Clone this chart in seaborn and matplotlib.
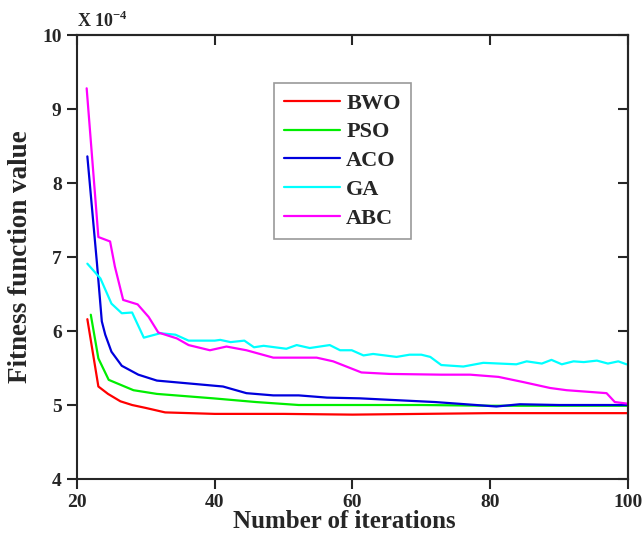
import numpy as np
import pandas as pd
import matplotlib
matplotlib.use("Agg")
import matplotlib.pyplot as plt
import seaborn as sns

# values in units of 1e-4
bwo_x = [21.5, 23.1, 24.5, 26.3, 28.0, 30.0, 32.8, 40.0, 50.0, 60.0, 70.0, 80.0, 90.0, 100.0]
bwo_y = [6.16, 5.25, 5.15, 5.05, 5.00, 4.96, 4.90, 4.88, 4.88, 4.87, 4.88, 4.89, 4.89, 4.89]

pso_x = [22.0, 23.1, 24.6, 28.2, 31.6, 39.8, 46.0, 52.2, 60.0, 70.0, 80.0, 90.0, 100.0]
pso_y = [6.22, 5.63, 5.34, 5.20, 5.15, 5.09, 5.04, 5.00, 5.00, 5.00, 4.99, 4.99, 4.99]

aco_x = [21.5, 22.9, 23.6, 24.1, 25.0, 26.5, 28.9, 31.6, 41.2, 44.6, 48.5, 52.2, 56.3, 61.1, 65.4,
         72.0, 80.9, 84.3, 90.0, 100.0]
aco_y = [8.36, 6.91, 6.13, 5.95, 5.72, 5.53, 5.41, 5.33, 5.25, 5.16, 5.13, 5.13, 5.10, 5.09, 5.07,
         5.04, 4.98, 5.01, 5.00, 5.00]

ga_x = [21.5, 23.4, 25.0, 26.5, 28.0, 29.7, 32.1, 34.3, 36.2, 40.0, 40.8, 42.3, 44.3, 45.7, 47.1,
        50.4, 51.9, 53.8, 56.7, 58.2, 59.9, 61.6, 63.0, 66.4, 68.3, 70.0, 71.3, 72.9, 76.1, 79.0,
        83.8, 85.3, 87.5, 88.9, 90.4, 92.1, 93.6, 95.5, 97.1, 98.6, 99.8]
ga_y = [6.91, 6.71, 6.37, 6.24, 6.25, 5.91, 5.97, 5.95, 5.87, 5.87, 5.88, 5.85, 5.87, 5.78, 5.80,
        5.76, 5.81, 5.77, 5.81, 5.74, 5.74, 5.67, 5.69, 5.65, 5.68, 5.68, 5.65, 5.54, 5.52, 5.57,
        5.55, 5.59, 5.56, 5.61, 5.55, 5.59, 5.58, 5.60, 5.56, 5.59, 5.55]

abc_x = [21.4, 23.1, 24.8, 25.5, 26.7, 28.8, 30.4, 31.8, 34.5, 36.2, 39.3, 41.7, 44.6, 48.5, 54.8,
         57.2, 61.3, 65.4, 72.9, 77.1, 81.2, 84.8, 88.7, 91.1, 96.9, 98.1, 99.8]
abc_y = [9.28, 7.27, 7.21, 6.87, 6.42, 6.36, 6.19, 5.98, 5.90, 5.81, 5.74, 5.79, 5.74, 5.64, 5.64,
         5.59, 5.44, 5.42, 5.41, 5.41, 5.38, 5.31, 5.23, 5.20, 5.16, 5.04, 5.02]

names = ["BWO", "PSO", "ACO", "GA", "ABC"]
colors = ["#ff0000", "#00ee00", "#0000dd", "#00ffff", "#ff00ff"]

frames = []
for name, xs, ys in zip(names, [bwo_x, pso_x, aco_x, ga_x, abc_x], [bwo_y, pso_y, aco_y, ga_y, abc_y]):
    frames.append(pd.DataFrame({"iter": xs, "fit": ys, "algo": name}))
df = pd.concat(frames, ignore_index=True)

sns.set_style("ticks")
plt.rcParams["font.family"] = ["Liberation Serif", "DejaVu Serif"]
plt.rcParams["font.weight"] = "bold"
plt.rcParams["mathtext.fontset"] = "custom"
plt.rcParams["mathtext.bf"] = "Liberation Serif:bold"

fig = plt.figure(figsize=(6.44, 5.47), dpi=100)
ax = fig.add_axes([0.1196, 0.1243, 0.8554, 0.8117])

sns.lineplot(data=df, x="iter", y="fit", hue="algo", hue_order=names,
             palette=colors, linewidth=1.6, sort=False, estimator=None, ax=ax)

ax.set_xlim(20, 100)
ax.set_ylim(4, 10)
ax.set_xticks([20, 40, 60, 80, 100])
ax.set_yticks([4, 5, 6, 7, 8, 9, 10])
# outer ticks on bottom/left, inner ticks on top/right
ax.tick_params(direction="out", length=7, width=1.5, pad=4, labelsize=14)
ax2 = ax.secondary_xaxis("top")
ax2.set_xticks([20, 40, 60, 80, 100])
ax2.tick_params(direction="in", length=7, width=1.5, labeltop=False)
ax3 = ax.secondary_yaxis("right")
ax3.set_yticks([4, 5, 6, 7, 8, 9, 10])
ax3.tick_params(direction="in", length=7, width=1.5, labelright=False)
for lab in ax.get_xticklabels() + ax.get_yticklabels():
    lab.set_fontweight("bold")
for s in list(ax.spines.values()) + [ax2.spines["top"], ax3.spines["right"]]:
    s.set_linewidth(1.5)
    s.set_visible(True)

ax.set_xlabel("Number of iterations", fontsize=18, fontweight="bold", labelpad=2)
ax.xaxis.set_label_coords(0.485, -0.07)
ax.set_ylabel("Fitness function value", fontsize=19.5, fontweight="bold", labelpad=7)
ax.text(0.0, 1.01, r"X 10$^{\mathbf{-4}}$", transform=ax.transAxes, fontsize=13,
        fontweight="bold", ha="left", va="bottom")

leg = ax.legend(loc="upper left", bbox_to_anchor=(0.3575, 0.892), borderaxespad=0,
                frameon=True, fancybox=False, edgecolor="gray", handlelength=2.5,
                handletextpad=0.3, labelspacing=0.37, borderpad=0.45,
                prop={"weight": "bold", "size": 16})
leg.get_frame().set_linewidth(1.2)

fig.savefig("out.png", dpi=100)
